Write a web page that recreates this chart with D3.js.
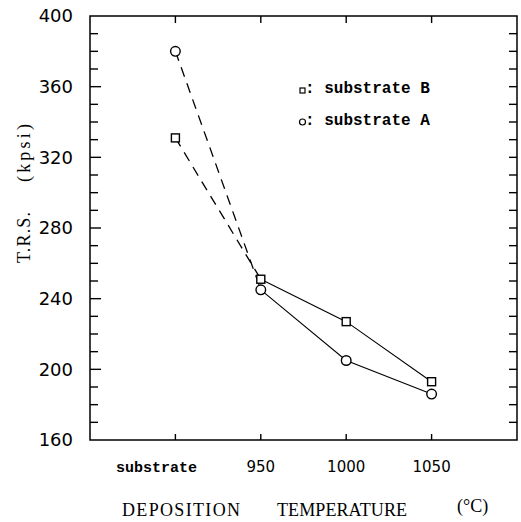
<!DOCTYPE html>
<html lang="en">
<head>
    <meta charset="UTF-8">
    <title>T.R.S. vs deposition temperature</title>
    <script src="https://d3js.org/d3.v7.min.js"></script>
    <style>
        body { margin: 0; background: #fff; }
        .ylab { font-family: "DejaVu Sans", sans-serif; font-size: 18px; }
        .xlab { font-family: "DejaVu Sans", sans-serif; font-size: 15px; }
        .title { font-family: "Liberation Serif", serif; font-size: 18px; }
        .mono { font-family: "Liberation Mono", monospace; font-weight: bold; }
    </style>
</head>
<body>
<svg width="521" height="522"></svg>

<script>
    // categories on the x axis (substrate = as-received, then deposition temps)
    const categories = ["substrate", "950", "1000", "1050"];
    const seriesB = [331, 251, 227, 193];   // squares
    const seriesA = [380, 245, 205, 186];   // circles
    const yTicks = [160, 200, 240, 280, 320, 360, 400];

    const svg = d3.select("svg");
    const pLeft = 90, pRight = 517, pTop = 16, pBottom = 440;

    const x = d3.scaleLinear().domain([-1, 4]).range([pLeft, pRight]);
    const y = d3.scaleLinear().domain([160, 400]).range([pBottom, pTop]);
    const idx = d3.range(categories.length);
    const minor = d3.range(170, 400, 10);

    // frame
    svg.append("rect")
        .attr("x", pLeft).attr("y", pTop)
        .attr("width", pRight - pLeft).attr("height", pBottom - pTop)
        .attr("fill", "none").attr("stroke", "#000").attr("stroke-width", 1.5);

    const ticks = svg.append("g").attr("stroke", "#000").attr("stroke-width", 1.4);

    // left: long ticks at labelled values, short ones every 10
    ticks.selectAll(".lt").data(minor).enter().append("line")
        .attr("x1", pLeft).attr("x2", d => pLeft + (d % 40 === 0 ? 11 : 8))
        .attr("y1", d => y(d)).attr("y2", d => y(d));
    // right: every 10
    ticks.selectAll(".rt").data(minor).enter().append("line")
        .attr("x1", pRight).attr("x2", pRight - 8)
        .attr("y1", d => y(d)).attr("y2", d => y(d));
    // bottom and top at categories
    ticks.selectAll(".bt").data(idx).enter().append("line")
        .attr("x1", d => x(d)).attr("x2", d => x(d))
        .attr("y1", pBottom).attr("y2", pBottom - 6);
    ticks.selectAll(".tt").data(idx).enter().append("line")
        .attr("x1", d => x(d)).attr("x2", d => x(d))
        .attr("y1", pTop).attr("y2", pTop + 7);

    // tick labels
    svg.selectAll(".ylab").data(yTicks).enter().append("text")
        .attr("class", "ylab").attr("x", 73).attr("y", d => y(d))
        .attr("dy", "0.36em").attr("text-anchor", "end").text(d => d);

    svg.selectAll(".xl").data(idx).enter().append("text")
        .attr("class", d => d === 0 ? "mono" : "xlab")
        .style("font-size", "15px")
        .attr("x", d => x(d)).attr("dx", d => d === 0 ? -19 : 0)
        .attr("y", 472).attr("text-anchor", "middle")
        .text(d => categories[d]);

    // lines: dashed from substrate to 950, solid after
    const line = d3.line().x(d => x(d[0])).y(d => y(d[1]));
    [seriesB, seriesA].forEach(s => {
        const pts = s.map((v, i) => [i, v]);
        svg.append("path").datum(pts.slice(0, 2)).attr("d", line)
            .attr("fill", "none").attr("stroke", "#000").attr("stroke-width", 1.3)
            .attr("stroke-dasharray", "10,7");
        svg.append("path").datum(pts.slice(1)).attr("d", line)
            .attr("fill", "none").attr("stroke", "#000").attr("stroke-width", 1.1);
    });

    // markers
    svg.selectAll(".sq").data(seriesB).enter().append("rect")
        .attr("x", (d, i) => x(i) - 4).attr("y", d => y(d) - 4)
        .attr("width", 8).attr("height", 8)
        .attr("fill", "#fff").attr("stroke", "#000").attr("stroke-width", 1.4);
    svg.selectAll(".ci").data(seriesA).enter().append("circle")
        .attr("cx", (d, i) => x(i)).attr("cy", d => y(d)).attr("r", 4.8)
        .attr("fill", "#fff").attr("stroke", "#000").attr("stroke-width", 1.4);

    // legend
    const legend = svg.append("g");
    legend.append("rect").attr("x", 300).attr("y", 88).attr("width", 5).attr("height", 5)
        .attr("fill", "none").attr("stroke", "#000").attr("stroke-width", 1.2);
    legend.append("circle").attr("cx", 302.5).attr("cy", 122).attr("r", 3)
        .attr("fill", "none").attr("stroke", "#000").attr("stroke-width", 1.2);
    legend.append("text").attr("class", "mono").attr("x", 305).attr("y", 93)
        .style("font-size", "16px").text(": substrate B");
    legend.append("text").attr("class", "mono").attr("x", 305).attr("y", 125)
        .style("font-size", "16px").text(": substrate A");

    // axis titles
    svg.append("text").attr("class", "title").attr("x", 122).attr("y", 516)
        .attr("textLength", 118).text("DEPOSITION");
    svg.append("text").attr("class", "title").attr("x", 277).attr("y", 516)
        .attr("textLength", 130).text("TEMPERATURE");
    svg.append("text").attr("class", "title").attr("x", 457).attr("y", 512).text("(°C)");

    svg.append("text").attr("class", "title")
        .attr("transform", "translate(30,263) rotate(-90)")
        .attr("textLength", 51).text("T.R.S.");
    svg.append("text").attr("class", "title")
        .attr("transform", "translate(30,182) rotate(-90)")
        .attr("textLength", 58).text("(kpsi)");
</script>
</body>
</html>
